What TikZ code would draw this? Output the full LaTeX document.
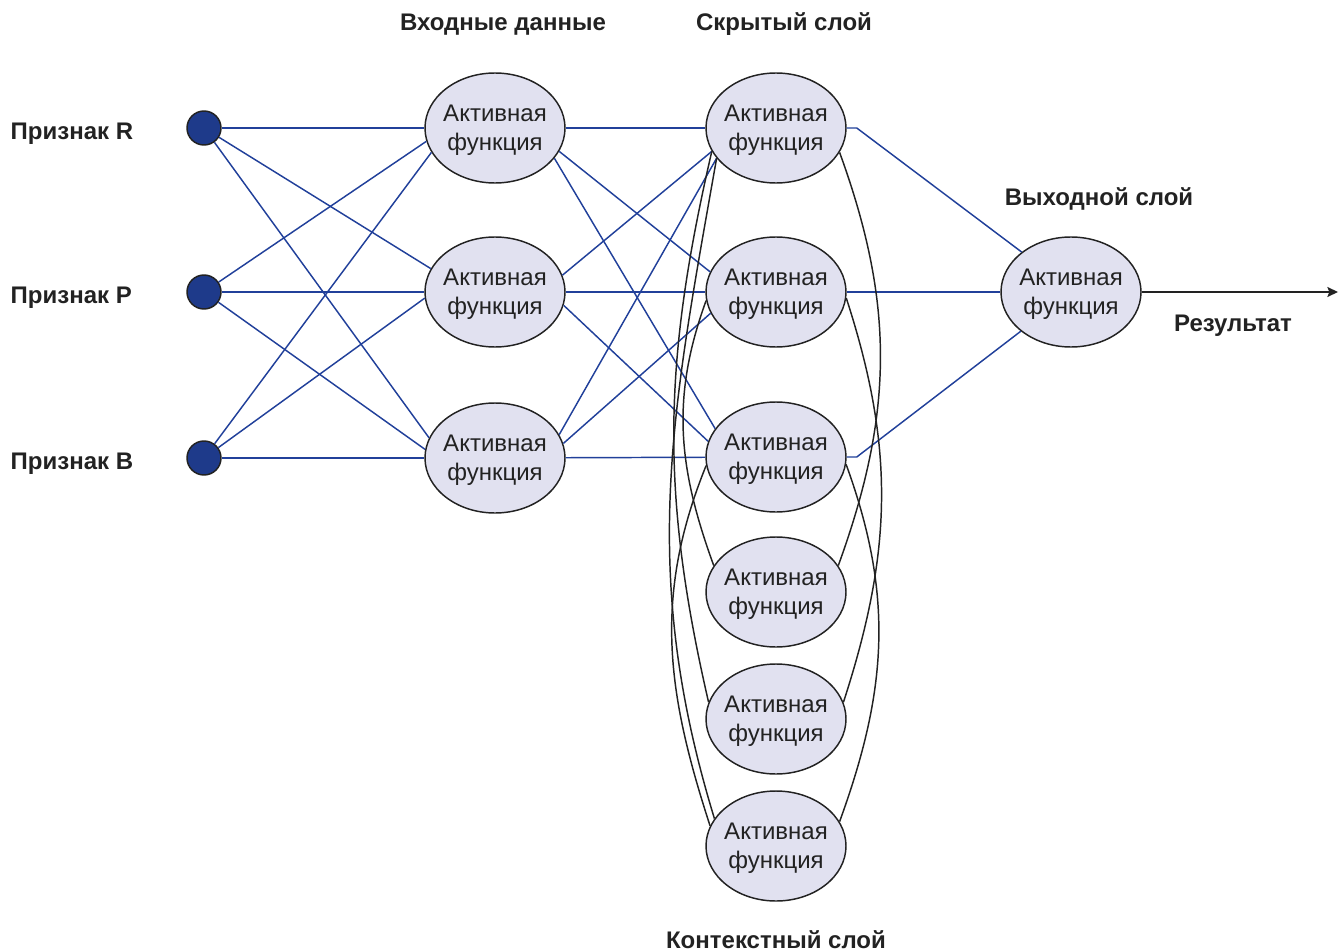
\documentclass[tikz,border=0pt]{standalone}
\usepackage{fontspec}
\setmainfont{Liberation Sans}
\usepackage{tikz}
\usetikzlibrary{shapes.geometric, arrows.meta}
\definecolor{wireblue}{RGB}{33,64,154}
\definecolor{dotblue}{RGB}{30,58,138}
\definecolor{cellfill}{RGB}{225,225,240}
\definecolor{ink}{RGB}{34,34,34}

\begin{document}
\begin{tikzpicture}[x=0.75pt, y=0.75pt,
    cell/.style={ellipse, draw=ink, line width=1.1pt, fill=cellfill,
      minimum width=105pt, minimum height=82.5pt, inner sep=0pt, inner xsep=-3pt,
      text depth=0pt, align=center, text=ink, font=\fontsize{18}{21.5}\selectfont},
    dot/.style={circle, draw=ink, line width=1.1pt, fill=dotblue,
      minimum size=25.5pt, inner sep=0pt},
    title/.style={text=ink, text depth=0pt, font=\bfseries\fontsize{18}{21.5}\selectfont},
    wire/.style={draw=wireblue, line width=1.1pt},
    back/.style={draw=ink, line width=1.1pt}]
      \useasboundingbox (0,0) rectangle (1341,-952);
      % inputs
      \node[dot] (R) at (204,-128) {};
      \node[dot] (P) at (204,-292) {};
      \node[dot] (B) at (204,-458) {};
      \node[title, anchor=west] (lR) at (6,-131) {Признак R};
      \node[title, anchor=west] (lP) at (6,-295) {Признак P};
      \node[title, anchor=west] (lB) at (6,-461) {Признак B};
      % layers
      \node[cell] (I1) at (495,-128) {Активная\\функция};
      \node[cell] (I2) at (495,-292) {Активная\\функция};
      \node[cell] (I3) at (495,-458) {Активная\\функция};
      \node[cell] (H1) at (776,-128) {Активная\\функция};
      \node[cell] (H2) at (776,-292) {Активная\\функция};
      \node[cell] (H3) at (776,-457) {Активная\\функция};
      \node[cell] (C1) at (776,-592) {Активная\\функция};
      \node[cell] (C2) at (776,-719) {Активная\\функция};
      \node[cell] (C3) at (776,-846) {Активная\\функция};
      \node[cell] (O) at (1071,-292) {Активная\\функция};
      \coordinate (end) at (1338,-292);
      % titles
      \node[title] (tIn) at (503,-22) {Входные данные};
      \node[title] (tHid) at (784,-22) {Скрытый слой};
      \node[title] (tOut) at (1099,-197) {Выходной слой};
      \node[title] (tRes) at (1233,-323) {Результат};
      \node[title] (tCtx) at (776,-940) {Контекстный слой};
      % inputs -> first layer
      \draw[wire] (R) -- (I1.180);
      \draw[wire] (R) -- (I2.160);
      \draw[wire] (R) -- (I3.163);
      \draw[wire] (P) -- (I1.191);
      \draw[wire] (P) -- (I2.180);
      \draw[wire] (P) -- (I3.173);
      \draw[wire] (B) -- (I1.201);
      \draw[wire] (B) -- (I2.185);
      \draw[wire] (B) -- (I3.180);
      % first layer -> hidden
      \draw[wire] (I1) -- (H1);
      \draw[wire] (I1.340) -- (H2.163);
      \draw[wire] (I1.333) -- (H3.155);
      \draw[wire] (I2.14) -- (H1.200);
      \draw[wire] (I2) -- (H2);
      \draw[wire] (I2.349) -- (H3.167);
      \draw[wire] (I3.20) -- (H1.207);
      \draw[wire] (I3.12) -- (H2.198);
      \draw[wire] (I3) -- (H3);
      % hidden -> output
      \draw[wire] (H1.east) -- ++(10,0) -- (O.141);
      \draw[wire] (H2) -- (O);
      \draw[wire] (H3.east) -- ++(10,0) -- (O.218);
      \draw[-{Stealth[length=8pt, width=7.5pt, inset=1.5pt]}, draw=ink, fill=ink, line width=1pt] (O) -- (end);
      % hidden <-> context
      \draw[back] (H1.-21) to[out=-70, in=70] (C1.23);
      \draw[back] (H2.-5) to[out=-72, in=72] (C2.14);
      \draw[back] (H3.-6) to[out=-70, in=70] (C3.21);
      \draw[back] (H1.207) to[out=-100, in=107] (C3.156);
      \draw[back] (H1.200) to[out=-103, in=103] (C2.166);
      \draw[back] (H2.187) to[out=-110, in=110] (C1.157);
      \draw[back] (H3.187) to[out=-112, in=108] (C3.163);
\end{tikzpicture}
\end{document}
